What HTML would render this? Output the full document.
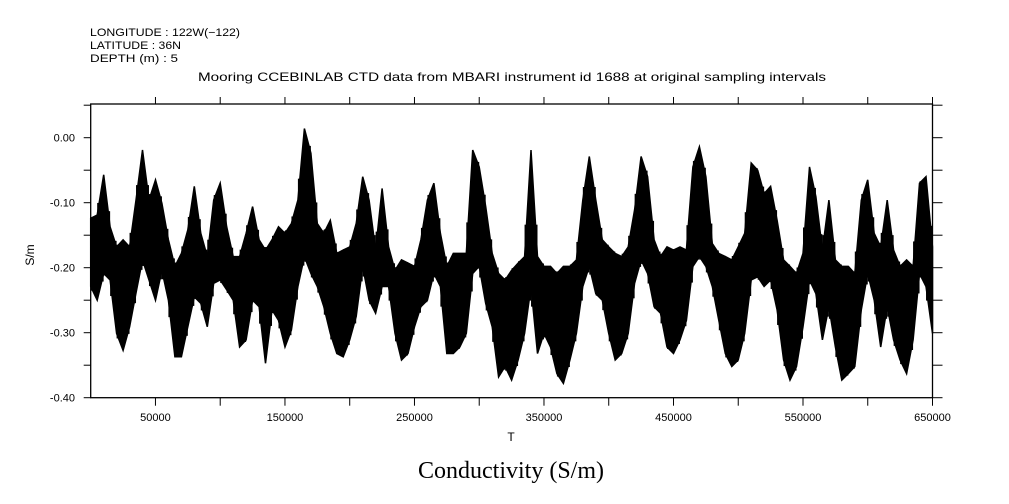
<!DOCTYPE html>
<html><head><meta charset="utf-8"><style>
body{margin:0;background:#fff;}
svg{display:block;font-family:"Liberation Sans",sans-serif;}
</style></head><body>
<svg width="1009" height="504" viewBox="0 0 1009 504">
<g id="hdr" font-size="11" fill="#000">
<text x="90" y="36" textLength="150" lengthAdjust="spacingAndGlyphs">LONGITUDE : 122W(−122)</text>
<text x="90" y="49" textLength="91" lengthAdjust="spacingAndGlyphs">LATITUDE : 36N</text>
<text x="90" y="62" textLength="88" lengthAdjust="spacingAndGlyphs">DEPTH (m) : 5</text>
</g>
<text x="198" y="81" font-size="12" textLength="628" lengthAdjust="spacingAndGlyphs">Mooring CCEBINLAB CTD data from MBARI instrument id 1688 at original sampling intervals</text>
<g id="plot"></g>
<g id="axes"></g>
<text x="511" y="441" font-size="12" text-anchor="middle">T</text>
<text x="0" y="0" font-size="12" text-anchor="middle" transform="translate(34,255) rotate(-90)">S/m</text>
<text x="511" y="478" font-size="24" text-anchor="middle" font-family="'Liberation Serif',serif">Conductivity (S/m)</text>
</svg>
<script>
const tValues=[0,5000,10000,15000,20000,25000,30000,35000,40000,45000,50000,55000,60000,65000,70000,75000,80000,85000,90000,95000,100000,105000,110000,115000,120000,125000,130000,135000,140000,145000,150000,155000,160000,165000,170000,175000,180000,185000,190000,195000,200000,205000,210000,215000,220000,225000,230000,235000,240000,245000,250000,255000,260000,265000,270000,275000,280000,285000,290000,295000,300000,305000,310000,315000,320000,325000,330000,335000,340000,345000,350000,355000,360000,365000,370000,375000,380000,385000,390000,395000,400000,405000,410000,415000,420000,425000,430000,435000,440000,445000,450000,455000,460000,465000,470000,475000,480000,485000,490000,495000,500000,505000,510000,515000,520000,525000,530000,535000,540000,545000,550000,555000,560000,565000,570000,575000,580000,585000,590000,595000,600000,605000,610000,615000,620000,625000,630000,635000,640000,645000,650000];
const upperValues=[-0.124,-0.119,-0.057,-0.137,-0.168,-0.157,-0.168,-0.096,-0.019,-0.096,-0.065,-0.101,-0.157,-0.198,-0.178,-0.142,-0.075,-0.147,-0.183,-0.096,-0.070,-0.137,-0.183,-0.183,-0.147,-0.106,-0.157,-0.173,-0.157,-0.137,-0.147,-0.132,-0.096,0.014,-0.024,-0.132,-0.147,-0.127,-0.178,-0.173,-0.168,-0.132,-0.060,-0.096,-0.173,-0.078,-0.168,-0.204,-0.188,-0.193,-0.198,-0.157,-0.096,-0.070,-0.147,-0.198,-0.178,-0.178,-0.178,-0.019,-0.045,-0.106,-0.178,-0.209,-0.219,-0.204,-0.193,-0.183,-0.019,-0.183,-0.198,-0.198,-0.209,-0.198,-0.198,-0.188,-0.096,-0.029,-0.096,-0.157,-0.168,-0.178,-0.183,-0.168,-0.111,-0.029,-0.060,-0.157,-0.183,-0.168,-0.173,-0.168,-0.173,-0.045,-0.014,-0.060,-0.163,-0.178,-0.183,-0.188,-0.168,-0.147,-0.039,-0.050,-0.086,-0.075,-0.127,-0.188,-0.198,-0.209,-0.178,-0.045,-0.091,-0.173,-0.096,-0.188,-0.198,-0.198,-0.209,-0.096,-0.065,-0.147,-0.168,-0.096,-0.173,-0.198,-0.188,-0.198,-0.070,-0.060,-0.168];
const lowerValues=[-0.229,-0.250,-0.209,-0.219,-0.301,-0.327,-0.291,-0.239,-0.188,-0.219,-0.250,-0.204,-0.250,-0.337,-0.337,-0.291,-0.245,-0.255,-0.291,-0.224,-0.219,-0.234,-0.250,-0.322,-0.311,-0.250,-0.260,-0.347,-0.265,-0.281,-0.322,-0.296,-0.229,-0.183,-0.209,-0.229,-0.260,-0.301,-0.332,-0.337,-0.311,-0.275,-0.198,-0.250,-0.270,-0.229,-0.229,-0.301,-0.342,-0.332,-0.291,-0.260,-0.250,-0.209,-0.229,-0.332,-0.332,-0.322,-0.301,-0.209,-0.198,-0.255,-0.291,-0.368,-0.352,-0.373,-0.342,-0.301,-0.229,-0.332,-0.301,-0.322,-0.363,-0.378,-0.342,-0.301,-0.229,-0.198,-0.240,-0.250,-0.301,-0.342,-0.332,-0.301,-0.224,-0.188,-0.209,-0.260,-0.270,-0.322,-0.332,-0.311,-0.281,-0.198,-0.183,-0.198,-0.229,-0.281,-0.332,-0.352,-0.342,-0.301,-0.219,-0.214,-0.229,-0.219,-0.265,-0.342,-0.373,-0.352,-0.291,-0.219,-0.240,-0.311,-0.260,-0.322,-0.373,-0.363,-0.352,-0.265,-0.209,-0.250,-0.322,-0.260,-0.311,-0.342,-0.363,-0.311,-0.209,-0.229,-0.301];
const xTickLabels=["50000","150000","250000","350000","450000","550000","650000"];
const yTickLabels=["0.00","-0.10","-0.20","-0.30","-0.40"];

const NS="http://www.w3.org/2000/svg";
const X0=90.7,X1=932.5,Y0=104,Y1=397.7,TMAX=650000;
const xs=t=>X0+(X1-X0)*t/TMAX;
const ys=v=>137.7-650*v;
function mk(tag,attrs,parent){const e=document.createElementNS(NS,tag);for(const k in attrs)e.setAttribute(k,attrs[k]);parent.appendChild(e);return e;}
const plot=document.getElementById('plot'),axes=document.getElementById('axes');
let pts=[];
for(let i=0;i<tValues.length;i++)pts.push(xs(tValues[i]).toFixed(1)+','+ys(upperValues[i]).toFixed(1));
for(let i=tValues.length-1;i>=0;i--)pts.push(xs(tValues[i]).toFixed(1)+','+ys(lowerValues[i]).toFixed(1));
const band=mk('polygon',{points:pts.join(' '),fill:'#000',stroke:'#000','stroke-width':'1.5'},plot);


for(let i=0;i<tValues.length-1;i++){
  const xa=xs(tValues[i]),xb=xs(tValues[i+1]);
  const top=Math.max(upperValues[i],upperValues[i+1])*0.3+Math.min(upperValues[i],upperValues[i+1])*0.7;
  const bot=Math.min(lowerValues[i],lowerValues[i+1])*0.3+Math.max(lowerValues[i],lowerValues[i+1])*0.7;
  if(top>bot){
    const r=mk('rect',{x:xa,y:ys(top),width:xb-xa,height:ys(bot)-ys(top),fill:'#000'},plot);
    
    
  }
}
const frame=mk('rect',{x:X0,y:Y0,width:X1-X0,height:Y1-Y0,fill:'none',stroke:'#000','stroke-width':'1.3'},axes);


for(let t=50000;t<=650000;t+=50000){
  const x=xs(t);
  mk('line',{x1:x,x2:x,y1:Y0,y2:Y0-7,stroke:'#000'},axes);
  mk('line',{x1:x,x2:x,y1:Y1,y2:Y1+8,stroke:'#000'},axes);
}
xTickLabels.forEach(s=>{
  const lab=mk('text',{x:xs(+s),y:421,'font-size':'11','text-anchor':'middle'},axes);
  lab.textContent=s;
  
  
});
for(let v=0.05;v>=-0.40;v-=0.05){
  const y=ys(v);
  if(y<Y0-0.5)continue;
  mk('line',{x1:X0,x2:X0-7,y1:y,y2:y,stroke:'#000'},axes);
  mk('line',{x1:X1,x2:X1+10,y1:y,y2:y,stroke:'#000'},axes);
}
yTickLabels.forEach(s=>{
  const lab=mk('text',{x:75,y:ys(parseFloat(s))+4,'font-size':'11','text-anchor':'end'},axes);
  lab.textContent=s;
  
  
});
</script>
</body></html>
